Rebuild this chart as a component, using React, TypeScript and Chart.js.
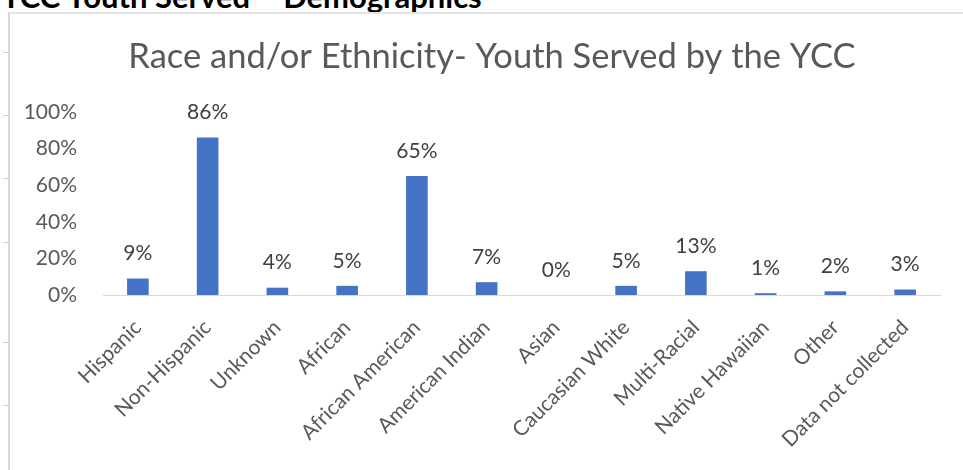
import React, { useEffect, useRef } from "react";
import { Chart, registerables } from "chart.js";

Chart.register(...registerables);

const heading = "YCC Youth Served – Demographics";
const chartTitle = "Race and/or Ethnicity- Youth Served by the YCC";
const categories = [
  "Hispanic",
  "Non-Hispanic",
  "Unknown",
  "African",
  "African American",
  "American Indian",
  "Asian",
  "Caucasian White",
  "Multi-Racial",
  "Native Hawaiian",
  "Other",
  "Data not collected",
];
const percentages = [9, 86, 4, 5, 65, 7, 0, 5, 13, 1, 2, 3];
const yTicks = [0, 20, 40, 60, 80, 100];
const rulerMarks = [52, 115, 178, 242, 342, 405];

const FONT = "Lato, 'Open Sans', sans-serif";

export default function App() {
  const ref = useRef<HTMLCanvasElement | null>(null);

  useEffect(() => {
    if (!ref.current) return;
    const titlePlugin = {
      id: "customTitle",
      afterDraw(chart: any) {
        const ctx = chart.ctx;
        ctx.save();
        ctx.fillStyle = "#595959";
        ctx.font = `34.5px ${FONT}`;
        ctx.textAlign = "center";
        ctx.textBaseline = "middle";
        ctx.fillText(chartTitle, 481, 42);
        ctx.restore();
      },
    };
    const labelPlugin = {
      id: "valueLabels",
      afterDatasetsDraw(chart: any) {
        const ctx = chart.ctx;
        const meta = chart.getDatasetMeta(0);
        ctx.save();
        ctx.fillStyle = "#404040";
        ctx.font = `21px ${FONT}`;
        ctx.textAlign = "center";
        ctx.textBaseline = "middle";
        meta.data.forEach((el: any, i: number) => {
          ctx.fillText(percentages[i] + "%", el.x, el.y - 25);
        });
        ctx.restore();
      },
    };
    const chart = new Chart(ref.current, {
      type: "bar",
      data: {
        labels: categories,
        datasets: [
          {
            data: percentages,
            backgroundColor: "#4472C4",
            borderWidth: 0,
            barPercentage: 0.31,
            categoryPercentage: 1,
          },
        ],
      },
      options: {
        animation: false,
        responsive: false,
        maintainAspectRatio: false,
        layout: { padding: { top: 97, right: 23, left: 0, bottom: 0 } },
        plugins: {
          legend: { display: false },
          title: { display: false },
          tooltip: { enabled: false },
        },
        scales: {
          x: {
            grid: { display: false, drawTicks: false },
            border: { display: true, color: "#d9d9d9", width: 1 },
            ticks: {
              autoSkip: false,
              maxRotation: 45,
              minRotation: 45,
              color: "#595959",
              font: { family: FONT, size: 21 },
              padding: 20,
            },
            afterFit(scale: any) {
              scale.height = 175;
            },
          },
          y: {
            min: 0,
            max: 100,
            afterBuildTicks(scale: any) {
              scale.ticks = yTicks.map((v) => ({ value: v }));
            },
            grid: { display: false, drawTicks: false },
            border: { display: false },
            ticks: {
              color: "#595959",
              font: { family: FONT, size: 21 },
              padding: 26,
              callback: (v: any) => v + "%",
            },
            afterFit(scale: any) {
              scale.width = 92;
            },
          },
        },
      },
      plugins: [titlePlugin, labelPlugin],
    });
    return () => chart.destroy();
  }, []);

  return (
    <div
      style={{
        position: "absolute",
        left: 0,
        top: 0,
        width: 963,
        height: 470,
        overflow: "hidden",
        background: "#fff",
      }}
    >
      <div
        style={{
          position: "absolute",
          left: 1,
          top: -19,
          font: `bold 31px/31px ${FONT}`,
          color: "#000",
          whiteSpace: "nowrap",
        }}
      >
        {heading}
      </div>
      <div
        style={{
          position: "absolute",
          left: 8,
          top: 12,
          width: 960,
          height: 470,
          borderLeft: "2px solid #d9d9d9",
          borderTop: "2px solid #e3e3e3",
        }}
      />
      {rulerMarks.map((y) => (
        <div
          key={y}
          style={{
            position: "absolute",
            left: 3,
            top: y,
            width: 5,
            height: 1,
            background: "#d0d0d0",
          }}
        />
      ))}
      <canvas
        ref={ref}
        width={952}
        height={455}
        style={{ position: "absolute", left: 11, top: 15, width: 952, height: 455 }}
      />
    </div>
  );
}
